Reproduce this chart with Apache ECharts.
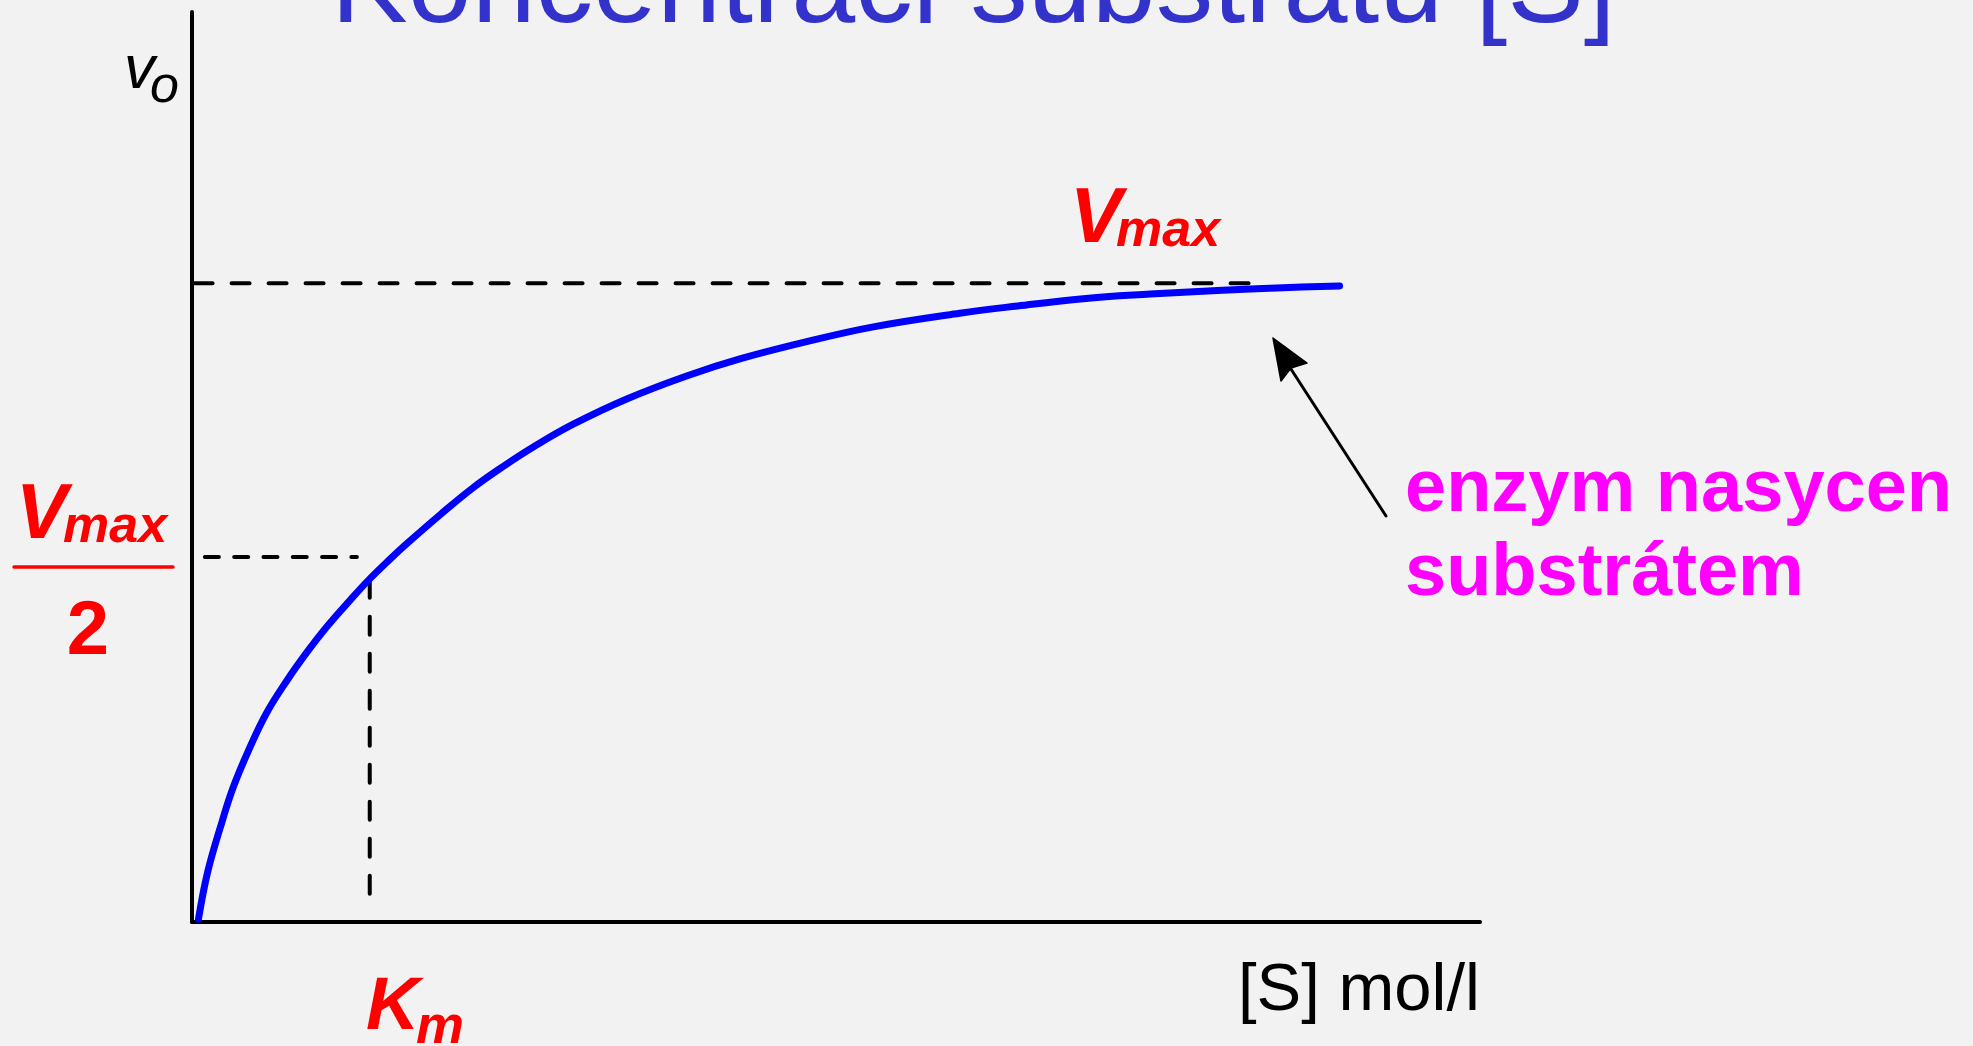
<!DOCTYPE html>
<html>
<head>
<meta charset="utf-8">
<title>Koncentraci substrátu [S]</title>
<script src="https://cdn.jsdelivr.net/npm/echarts@6/dist/echarts.min.js"></script>
<style>
  html, body { margin: 0; padding: 0; background: #f2f2f2; }
  #chart { width: 1973px; height: 1046px; }
</style>
</head>
<body>
<div id="chart"></div>
<script>
// substrate concentration vs. initial velocity (arbitrary units, 0..100 on both axes)
var sConc = [0.5, 1.2, 2.2, 3.2, 4.5, 5.8, 7.4, 8.9, 10.5, 12.3, 13.8, 15.4, 16.7, 19.3, 21.8, 24.2, 26.5, 29.6, 33.8, 38.4, 42.6, 47.8, 52.9, 59.6, 64.1, 69.2, 74.4, 79.6, 84.7, 89.1];
var v0 = [0.3, 5.4, 10.4, 14.8, 19.2, 23.0, 26.6, 29.6, 32.5, 35.4, 37.7, 39.9, 41.6, 44.8, 47.7, 50.1, 52.2, 54.7, 57.5, 60.0, 61.9, 63.8, 65.4, 66.9, 67.7, 68.5, 69.0, 69.4, 69.7, 69.9];

var vmaxLevel = 70.2;
var halfLevel = 40.1;
var kmValue = 13.8;
var vmaxDashX = [0.2, 83.3];
var halfDashX = [1.0, 12.8];
var kmDashY = [37.6, 1.5];

var axisMax = 100;

var curve = sConc.map(function (s, i) { return [s, v0[i]]; });

var chart = echarts.init(document.getElementById('chart'));
window.addEventListener('resize', chart.resize);

// text helper: y given as alphabetic baseline
function label(text, x, base, size, style, color, align) {
    return {
        type: 'text',
        x: x,
        y: base - 0.275 * size,
        silent: true,
        style: {
            text: text,
            font: style + ' ' + size + 'px "Liberation Sans", Arial, sans-serif',
            fill: color,
            textAlign: align || 'left',
            textVerticalAlign: 'middle',
            verticalAlign: 'middle'
        }
    };
}

var dashStyle = function (pattern) {
    return { color: '#000', width: 4, type: pattern, cap: 'round' };
};

chart.setOption({
    animation: false,
    backgroundColor: '#f2f2f2',
    grid: { left: 192, right: 493, top: 12, bottom: 124 },
    xAxis: {
        type: 'value',
        min: 0,
        max: axisMax,
        axisLine: { show: true, onZero: false, lineStyle: { color: '#000', width: 4 } },
        axisTick: { show: false },
        axisLabel: { show: false },
        splitLine: { show: false }
    },
    yAxis: {
        type: 'value',
        min: 0,
        max: axisMax,
        axisLine: { show: true, onZero: false, lineStyle: { color: '#000', width: 4 } },
        axisTick: { show: false },
        axisLabel: { show: false },
        splitLine: { show: false }
    },
    series: [
        {
            name: 'Vmax',
            type: 'line',
            symbol: 'none',
            data: [[vmaxDashX[0], vmaxLevel], [vmaxDashX[1], vmaxLevel]],
            lineStyle: dashStyle([18, 19])
        },
        {
            name: 'Vmax/2',
            type: 'line',
            symbol: 'none',
            data: [[halfDashX[0], halfLevel], [halfDashX[1], halfLevel]],
            lineStyle: dashStyle([14, 15.3])
        },
        {
            name: 'Km',
            type: 'line',
            symbol: 'none',
            data: [[kmValue, kmDashY[0]], [kmValue, kmDashY[1]]],
            lineStyle: dashStyle([18, 19])
        },
        {
            name: 'v0',
            type: 'line',
            symbol: 'none',
            smooth: 0.4,
            data: curve,
            lineStyle: { color: '#0000ff', width: 7, cap: 'round', join: 'round' }
        }
    ],
    graphic: [
        label('Koncentraci substrátu [S]', 331, 22, 115, 'normal', '#3333cc'),
        label('v', 124, 88, 62, 'italic', '#000'),
        label('o', 150, 102, 52, 'italic', '#000'),
        label('V', 1070, 242, 78, 'italic bold', '#ff0000'),
        label('max', 1116, 246, 52, 'italic bold', '#ff0000'),
        label('V', 16, 538, 77, 'italic bold', '#ff0000'),
        label('max', 63, 542, 52, 'italic bold', '#ff0000'),
        {
            type: 'line',
            silent: true,
            shape: { x1: 14, y1: 567, x2: 173, y2: 567 },
            style: { stroke: '#ff0000', lineWidth: 3.5, lineCap: 'round' }
        },
        label('2', 88, 654, 76, 'bold', '#ff0000', 'center'),
        label('K', 366, 1029, 74, 'italic bold', '#ff0000'),
        label('m', 416, 1043, 54, 'italic bold', '#ff0000'),
        label('[S] mol/l', 1238, 1010, 67, 'normal', '#000'),
        label('enzym nasycen', 1405, 511, 74, 'bold', '#ff00ff'),
        label('substrátem', 1405, 595, 74, 'bold', '#ff00ff'),
        {
            type: 'line',
            silent: true,
            shape: { x1: 1386, y1: 516, x2: 1289, y2: 366 },
            style: { stroke: '#000', lineWidth: 3, lineCap: 'round' }
        },
        {
            type: 'polygon',
            silent: true,
            shape: { points: [[1273, 338], [1307, 363], [1291, 368], [1281, 381]] },
            style: { fill: '#000', stroke: '#000', lineWidth: 1.5, lineJoin: 'round' }
        }
    ]
});
</script>
</body>
</html>
